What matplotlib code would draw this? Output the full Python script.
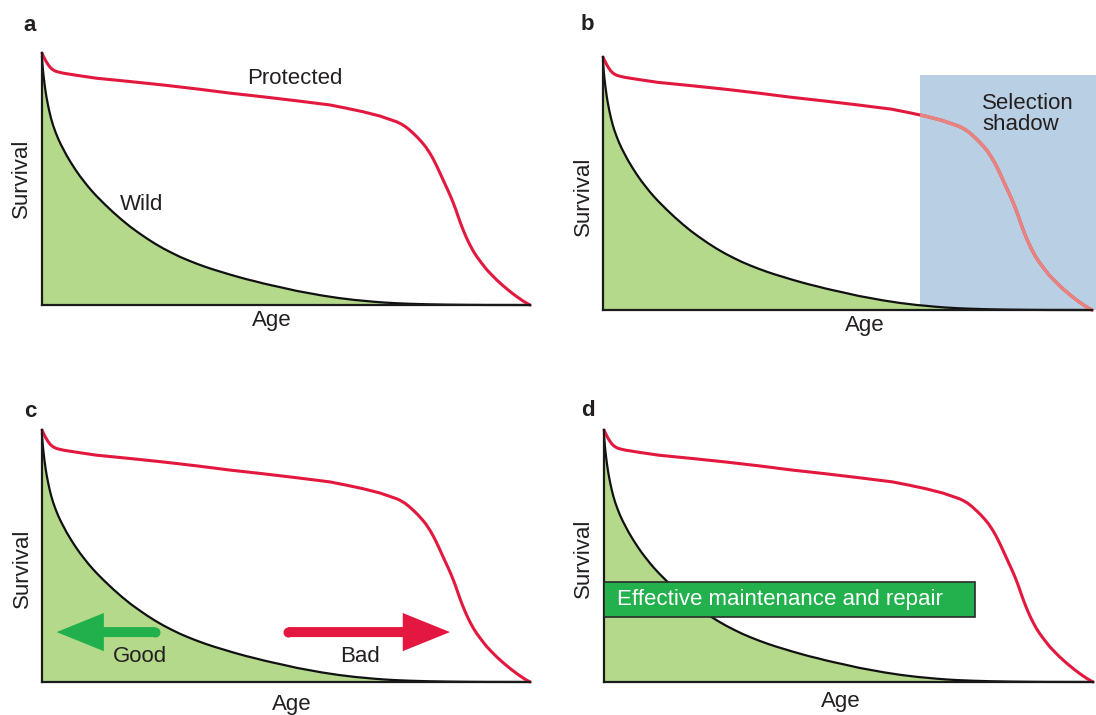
import numpy as np
import matplotlib.pyplot as plt
import matplotlib.patches as mpatches

plt.rcParams['font.family'] = ['Liberation Sans', 'DejaVu Sans']

# curves (age as fraction of max lifespan, survival 0..1)
age_protected = [0.000, 0.002, 0.004, 0.007, 0.0096, 0.013, 0.016, 0.019, 0.023, 0.028,
                 0.033, 0.044, 0.070, 0.112, 0.180, 0.249, 0.320, 0.385, 0.450, 0.520,
                 0.590, 0.624, 0.658, 0.6925, 0.727, 0.7355, 0.744, 0.7525, 0.761, 0.7695,
                 0.778, 0.7865, 0.795, 0.80175, 0.8085, 0.81525, 0.822, 0.82725, 0.8325, 0.83775,
                 0.843, 0.848, 0.853, 0.858, 0.863, 0.870, 0.877, 0.884, 0.891, 0.90125,
                 0.9115, 0.92175, 0.932, 0.94225, 0.9525, 0.96275, 0.973, 0.97975, 0.9865, 0.99325,
                 1.000]
surv_protected = [1.000, 0.991, 0.983, 0.972, 0.963, 0.953, 0.945, 0.939, 0.933, 0.928,
                  0.925, 0.920, 0.912, 0.900, 0.887, 0.873, 0.857, 0.841, 0.827, 0.811,
                  0.794, 0.781, 0.767, 0.750, 0.727, 0.719, 0.709, 0.696, 0.681, 0.665,
                  0.647, 0.627, 0.602, 0.579, 0.553, 0.525, 0.496, 0.474, 0.452, 0.429,
                  0.404, 0.378, 0.350, 0.323, 0.298, 0.266, 0.238, 0.213, 0.192, 0.165,
                  0.140, 0.119, 0.099, 0.081, 0.064, 0.048, 0.033, 0.024, 0.015, 0.007,
                  0.000]

age_wild = [0.000, 0.001, 0.002, 0.003, 0.005, 0.0075, 0.0096, 0.013, 0.016, 0.019,
            0.023, 0.028, 0.033, 0.038, 0.0436, 0.051, 0.060, 0.069, 0.078, 0.086,
            0.095, 0.103, 0.112, 0.129, 0.146, 0.163, 0.180, 0.197, 0.215, 0.232,
            0.249, 0.266, 0.283, 0.300, 0.317, 0.334, 0.351, 0.368, 0.385, 0.403,
            0.420, 0.437, 0.453, 0.471, 0.490, 0.506, 0.522, 0.539, 0.556, 0.573,
            0.590, 0.607, 0.624, 0.641, 0.658, 0.680, 0.700, 0.725, 0.750, 0.790,
            0.830, 0.870, 0.910, 1.000]
surv_wild = [0.985, 0.955, 0.933, 0.914, 0.881, 0.846, 0.821, 0.787, 0.761, 0.738,
             0.712, 0.685, 0.661, 0.640, 0.619, 0.592, 0.563, 0.536, 0.511, 0.491,
             0.469, 0.451, 0.432, 0.399, 0.368, 0.339, 0.312, 0.288, 0.264, 0.243,
             0.224, 0.207, 0.191, 0.177, 0.164, 0.152, 0.141, 0.131, 0.121, 0.111,
             0.102, 0.094, 0.086, 0.078, 0.070, 0.063, 0.056, 0.050, 0.044, 0.038,
             0.033, 0.028, 0.024, 0.020, 0.017, 0.013, 0.010, 0.0072, 0.0052, 0.0029,
             0.0015, 0.0007, 0.0002, 0.000]

panel_letters = ['a', 'b', 'c', 'd']
shadow_start = 0.648
shadow_top = 0.929
good_arrow = [(0.232, 0.198), (0.030, 0.198)]   # tail, tip
bad_arrow = [(0.504, 0.198), (0.836, 0.198)]
repair_box = [0.0, 0.258, 0.759, 0.139]          # x, y, w, h (axes fraction)

RED = '#e2183f'
GREEN_FILL = '#b5d98b'
TXT = '#231f20'
FS = 16

fig = plt.figure(figsize=(10.96, 7.15), dpi=100)

# axes rects in figure fraction
rects = [(0.0383, 0.5734, 0.4453, 0.3524),
         (0.5502, 0.5664, 0.4462, 0.3538),
         (0.0383, 0.0462, 0.4453, 0.3524),
         (0.5511, 0.0462, 0.4462, 0.3524)]
letter_pos = [(0.021, 0.965), (0.530, 0.966), (0.022, 0.424), (0.530, 0.426)]
survival_pos = [(-0.041, 0.504), (-0.039, 0.45), (-0.039, 0.45), (-0.041, 0.49)]
age_pos = [(0.471, -0.06), (0.536, -0.061), (0.512, -0.091), (0.485, -0.079)]

axes = []
for i, r in enumerate(rects):
    ax = fig.add_axes(r)
    ax.set_xlim(0, 1)
    ax.set_ylim(0, 1)
    for s in ['top', 'right']:
        ax.spines[s].set_visible(False)
    for s in ['left', 'bottom']:
        ax.spines[s].set_linewidth(1.6)
        ax.spines[s].set_color('#1a1a1a')
        ax.spines[s].set_zorder(5)
    ax.set_xticks([])
    ax.set_yticks([])
    ax.patch.set_alpha(0)

    ax.fill_between(age_wild, surv_wild, 0, color=GREEN_FILL, lw=0, zorder=1)
    ax.plot(age_wild, surv_wild, color='#111111', lw=1.6, zorder=2, clip_on=False)
    ax.plot(age_protected, surv_protected, color=RED, lw=2.2, zorder=3,
            clip_on=False, solid_capstyle='round')

    ax.text(*survival_pos[i], 'Survival', transform=ax.transAxes, rotation=90,
            ha='center', va='center', fontsize=FS, color=TXT)
    ax.text(*age_pos[i], 'Age', transform=ax.transAxes, ha='center', va='center',
            fontsize=FS, color=TXT)
    fig.text(*letter_pos[i], panel_letters[i], fontsize=FS, fontweight='bold',
             color=TXT, ha='left', va='center')
    axes.append(ax)

# a: curve labels
axes[0].text(0.518, 0.90, 'Protected', ha='center', va='center', fontsize=FS, color=TXT)
axes[0].text(0.204, 0.397, 'Wild', ha='center', va='center', fontsize=FS, color=TXT)

# b: selection shadow, the red curve shows lighter inside it
axb = axes[1]
shadow = mpatches.Rectangle((shadow_start, 0), 1.2 - shadow_start, shadow_top,
                            transform=axb.transAxes, facecolor='#b9cfe3',
                            edgecolor='none', zorder=0.5, clip_on=False)
axb.add_patch(shadow)
light, = axb.plot(age_protected, surv_protected, color='#e8837f', lw=2.4, zorder=4)
clip = mpatches.Rectangle((shadow_start, -0.05), 1.2 - shadow_start, shadow_top + 0.05,
                          transform=axb.transAxes, visible=False)
axb.add_patch(clip)
light.set_clip_path(clip)
axb.text(0.775, 0.775, 'Selection\nshadow', ha='left', va='center', fontsize=FS,
         color=TXT, linespacing=1.05)

# c: good / bad arrows
axc = axes[2]
for (tail, tip), col in [(good_arrow, '#21b04b'), (bad_arrow, '#e3173f')]:
    axc.annotate('', xy=tip, xytext=tail, xycoords='axes fraction',
                 arrowprops=dict(arrowstyle='simple,head_length=3.4,head_width=2.75,tail_width=0.72',
                                 color=col, lw=0, shrinkA=0, shrinkB=0, mutation_scale=10),
                 zorder=6)
    axc.plot(tail[0], tail[1], 'o', color=col, ms=7.2, mew=0, transform=axc.transAxes,
             zorder=6)
axc.text(0.201, 0.10, 'Good', ha='center', va='center', fontsize=FS, color=TXT)
axc.text(0.652, 0.10, 'Bad', ha='center', va='center', fontsize=FS, color=TXT)

# d: maintenance box
axd = axes[3]
box = mpatches.Rectangle((repair_box[0], repair_box[1]), repair_box[2], repair_box[3],
                         transform=axd.transAxes, facecolor='#22b14c',
                         edgecolor='#2a2a2a', lw=1.2, zorder=7)
axd.add_patch(box)
axd.text(0.027, repair_box[1] + repair_box[3] / 2, 'Effective maintenance and repair',
         transform=axd.transAxes, ha='left', va='center', fontsize=FS, color='white',
         zorder=8)

fig.savefig('out.png', dpi=100)
